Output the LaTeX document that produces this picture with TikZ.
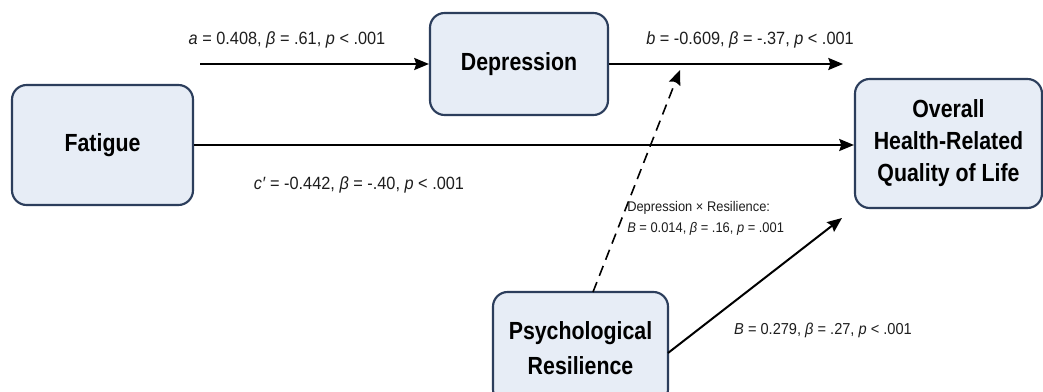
\documentclass[tikz,border=0pt]{standalone}
\usepackage{fontspec}
\setmainfont[FakeStretch=0.92]{Liberation Sans}
\newfontfamily\boxfont[FakeStretch=0.86]{Liberation Sans}
\usetikzlibrary{arrows.meta,calc}
\definecolor{boxfill}{HTML}{E7EDF6}
\definecolor{boxline}{HTML}{2C3E5C}
\definecolor{labtext}{HTML}{1E1E1E}
\begin{document}
\begin{tikzpicture}[x=0.75pt,y=-0.75pt,
  varbox/.style={draw=boxline,fill=boxfill,line width=1.6pt,rounded corners=11pt,
    align=center,inner sep=0pt,font=\boxfont\bfseries\fontsize{18.6}{24}\selectfont},
  path/.style={line width=1.5pt,-{Stealth[length=11pt,width=9pt,inset=1.5pt]}},
  modpath/.style={line width=1.2pt,dash pattern=on 8pt off 5pt,-{Stealth[length=11pt,width=9pt,inset=1.5pt]}},
  lab/.style={text=labtext,font=\fontsize{13.3}{15}\selectfont,inner sep=0pt},
  smalllab/.style={text=labtext,font=\fontsize{10.5}{16}\selectfont,inner sep=0pt,align=left},
  midlab/.style={text=labtext,font=\fontsize{11.9}{14}\selectfont,inner sep=0pt}]
\useasboundingbox (0,0) rectangle (1043,392);
\clip (0,0) rectangle (1043,392);
\fill[white] (0,0) rectangle (1043,392);

\node[varbox,minimum width=181*0.75pt,minimum height=120*0.75pt] (fat) at (102.5,145) {Fatigue};
\node[varbox,minimum width=178*0.75pt,minimum height=102*0.75pt] (dep) at (519,64) {Depression};
\node[varbox,minimum width=187*0.75pt,minimum height=129*0.75pt] (over) at (948.5,143.5) {Overall\\Health-Related\\Quality of Life};
\node[varbox,minimum width=175*0.75pt,minimum height=112*0.75pt,font=\boxfont\bfseries\fontsize{18.6}{26}\selectfont] (psy) at (580.5,348) {Psychological\\Resilience};

\coordinate (aStart) at (200,64);
\coordinate (bEnd) at (843,64);
\coordinate (modStart) at (593,292);
\coordinate (modEnd) at (680,70);
\coordinate (resEnd) at (842,218);
\coordinate (resStart) at (668,353);

\draw[path] (aStart) -- (dep.west);
\draw[path] (dep.east) -- (bEnd);
\draw[path] (fat.east) -- (fat.east -| over.west);
\draw[modpath] (modStart) -- (modEnd);
\draw[path] (resStart) -- (resEnd);

\node[lab] (alab) at (287,40) {\textit{a} = 0.408, \textit{β} = .61, \textit{p} < .001};
\node[lab] (blab) at (750,40) {\textit{b} = -0.609, \textit{β} = -.37, \textit{p} < .001};
\node[lab] (clab) at (359,185) {\textit{c′} = -0.442, \textit{β} = -.40, \textit{p} < .001};
\node[smalllab,anchor=north west] (ilab) at (627,201) {Depression × Resilience:\\\textit{B} = 0.014, \textit{β} = .16, \textit{p} = .001};
\node[midlab] (rlab) at (823,330) {\textit{B} = 0.279, \textit{β} = .27, \textit{p} < .001};
\end{tikzpicture}
\end{document}
